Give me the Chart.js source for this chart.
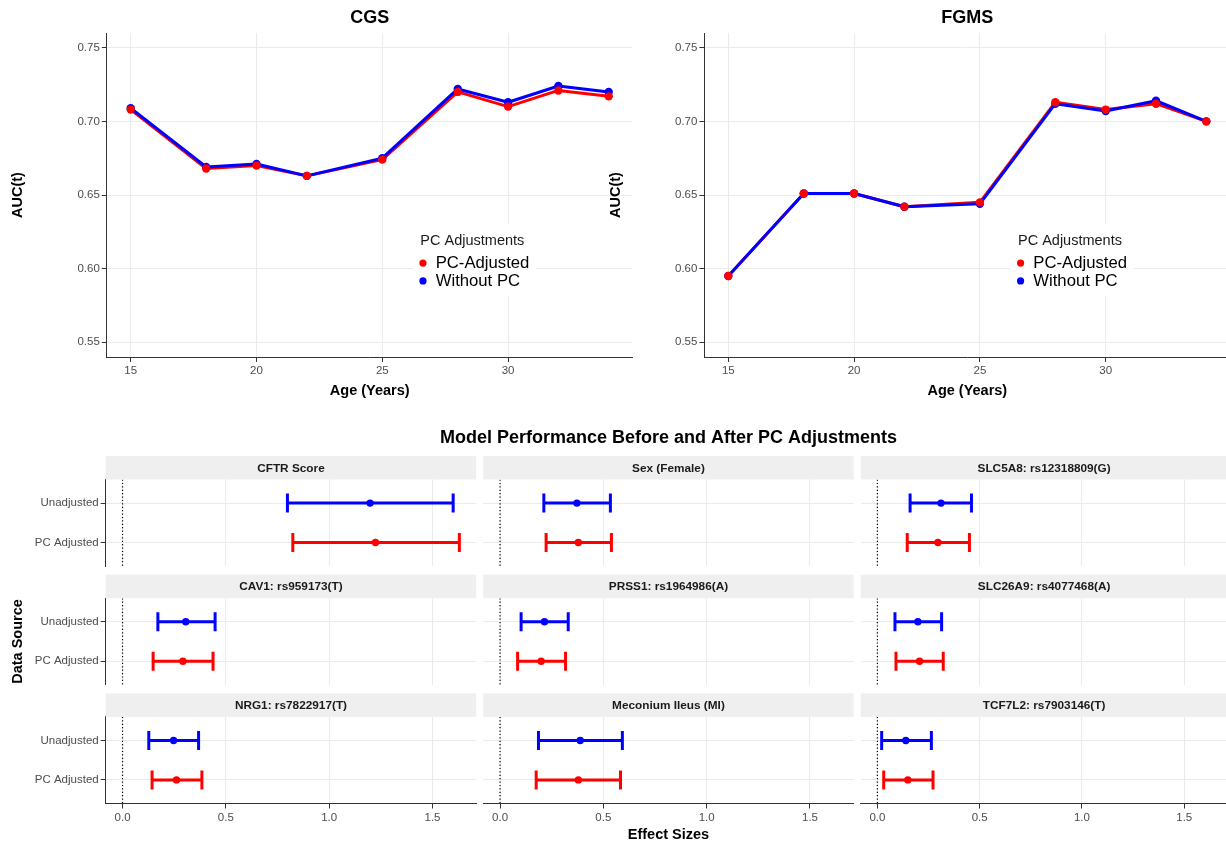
<!DOCTYPE html>
<html>
<head>
<meta charset="utf-8">
<script src="https://cdn.jsdelivr.net/npm/chart.js@4.4.1/dist/chart.umd.min.js"></script>
<style>
  html, body { margin: 0; padding: 0; background: #ffffff; }
  #fig { position: relative; width: 1226px; height: 846px; overflow: hidden; background: #ffffff; }
  #fig canvas { position: absolute; left: 0; top: 0; }
</style>
</head>
<body>
<div id="fig"></div>
<script>
// ---------- AUC(t) by age ----------
const ages = [15, 18, 20, 22, 25, 28, 30, 32, 34];
const ageTicks = [15, 20, 25, 30];
const aucTicks = [0.55, 0.60, 0.65, 0.70, 0.75];
const cgsAdjusted  = [0.708, 0.668, 0.670, 0.663, 0.674, 0.720, 0.710, 0.721, 0.717];
const cgsWithout   = [0.709, 0.669, 0.671, 0.663, 0.675, 0.722, 0.713, 0.724, 0.720];
const fgmsAdjusted = [0.595, 0.651, 0.651, 0.642, 0.645, 0.713, 0.708, 0.712, 0.700];
const fgmsWithout  = [0.595, 0.651, 0.651, 0.642, 0.644, 0.712, 0.707, 0.714, 0.700];
const seriesNames = ['PC-Adjusted', 'Without PC'];
const legendTitle = 'PC Adjustments';

// ---------- Effect sizes (facets) ----------
const facetTitle = 'Model Performance Before and After PC Adjustments';
const facetNames = [
  'CFTR Score', 'Sex (Female)', 'SLC5A8: rs12318809(G)',
  'CAV1: rs959173(T)', 'PRSS1: rs1964986(A)', 'SLC26A9: rs4077468(A)',
  'NRG1: rs7822917(T)', 'Meconium Ileus (MI)', 'TCF7L2: rs7903146(T)'
];
const sourceLabels = ['Unadjusted', 'PC Adjusted'];
const unadjEstimate = [1.198, 0.372, 0.311, 0.306, 0.215, 0.198, 0.247, 0.388, 0.139];
const unadjLower    = [0.798, 0.212, 0.160, 0.171, 0.102, 0.086, 0.127, 0.186, 0.021];
const unadjUpper    = [1.600, 0.534, 0.460, 0.448, 0.330, 0.314, 0.368, 0.592, 0.264];
const adjEstimate   = [1.224, 0.379, 0.296, 0.292, 0.199, 0.206, 0.261, 0.379, 0.149];
const adjLower      = [0.824, 0.223, 0.146, 0.148, 0.085, 0.091, 0.143, 0.175, 0.031];
const adjUpper      = [1.630, 0.539, 0.450, 0.438, 0.317, 0.322, 0.384, 0.583, 0.272];
const effectTicks = [0, 0.5, 1.0, 1.5];
const referenceEffect = 0;

// ---------- styling ----------
const FONT = '"Liberation Sans", Arial, Helvetica, sans-serif';
const W = 1240, H = 846;
const GRID = '#ebebeb', AXIS = '#333333', TICKTXT = '#4d4d4d', INK = '#1a1a1a';
const STRIP = '#efefef', STRIP_H = 23.5;
const RED = '#ff0000', BLUE = '#0000ff';

Chart.defaults.font.family = FONT;
Chart.defaults.animation = false;
Chart.defaults.events = [];
Chart.defaults.plugins.legend.display = false;
Chart.defaults.plugins.tooltip.enabled = false;

const fig = document.getElementById('fig');
function addCanvas() {
  const c = document.createElement('canvas');
  c.width = W; c.height = H;
  c.style.width = W + 'px'; c.style.height = H + 'px';
  fig.appendChild(c);
  return c;
}
function expand(lo, hi, mult) { const p = (hi - lo) * mult; return [lo - p, hi + p]; }
const fixedTicks = values => scale => { scale.ticks = values.map(v => ({ value: v })); };

function xAxis(o) {
  return {
    type: 'linear', position: 'bottom', min: o.min, max: o.max,
    afterBuildTicks: fixedTicks(o.ticks),
    afterFit: s => { s.height = o.height; },
    grid: { color: GRID, lineWidth: 1, drawTicks: o.labels, tickLength: 5, tickColor: AXIS, tickWidth: 1 },
    border: { display: o.axisLine, color: AXIS, width: 1 },
    ticks: { display: o.labels, padding: 2, color: TICKTXT, font: { size: 11.5 }, callback: o.fmt, maxRotation: 0, autoSkip: false },
    title: { display: !!o.title, text: o.title || '', color: '#000000', font: { size: 14.5, weight: 'bold' },
             padding: { top: 0, bottom: o.titlePad || 0 } }
  };
}
function yAxis(o) {
  return {
    type: 'linear', position: 'left', min: o.min, max: o.max, reverse: !!o.reverse,
    afterBuildTicks: fixedTicks(o.ticks),
    afterFit: s => { s.width = o.width; },
    grid: { color: GRID, lineWidth: 1, drawTicks: o.labels, tickLength: 5, tickColor: AXIS, tickWidth: 1 },
    border: { display: o.axisLine, color: AXIS, width: 1 },
    ticks: { display: o.labels, padding: 2, color: TICKTXT, font: { size: 11.5 }, callback: o.fmt, autoSkip: false },
    title: { display: !!o.title, text: o.title || '', color: '#000000', font: { size: 14.5, weight: 'bold' },
             padding: { top: o.titlePad || 0, bottom: 0 } }
  };
}

// Legend box placed inside the panel at relative (x, y) measured from bottom-left.
function insideLegend(title, relX, relY) {
  return {
    id: 'insideLegend',
    afterDatasetsDraw(chart) {
      const { ctx, chartArea: a } = chart;
      const items = chart.data.datasets.filter(d => d.legendEntry);
      ctx.save();
      const titleFont = `14.5px ${FONT}`, itemFont = `16.7px ${FONT}`;
      ctx.font = titleFont;
      const tw = ctx.measureText(title).width;
      ctx.font = itemFont;
      const iw = Math.max(...items.map(d => ctx.measureText(d.label).width));
      const keyW = 15.3;
      const contentW = Math.max(tw, keyW + iw);
      const padX = 7, boxH = 72;
      const cx = a.left + relX * (a.right - a.left);
      const cy = a.bottom - relY * (a.bottom - a.top);
      const x0 = cx - contentW / 2;
      ctx.fillStyle = '#ffffff';
      ctx.fillRect(x0 - padX, cy - boxH / 2, contentW + 2 * padX, boxH);
      ctx.textBaseline = 'middle';
      ctx.textAlign = 'left';
      ctx.fillStyle = INK;
      ctx.font = titleFont;
      ctx.fillText(title, x0, cy - 19.1);
      ctx.font = itemFont;
      items.forEach((d, k) => {
        const y = cy + 3.3 + k * 17.8;
        ctx.beginPath();
        ctx.arc(x0 + 2.6, y, 3.6, 0, Math.PI * 2);
        ctx.fillStyle = d.pointBackgroundColor;
        ctx.fill();
        ctx.fillStyle = '#000000';
        ctx.fillText(d.label, x0 + keyW, y + 0.5);
      });
      ctx.restore();
    }
  };
}

function aucChart(title, adjusted, without, padLeft, areaRight) {
  const [xMin, xMax] = expand(Math.min(...ages), Math.max(...ages), 0.05);
  const [yMin, yMax] = expand(aucTicks[0], aucTicks[aucTicks.length - 1], 0.05);
  const pts = vals => ages.map((a, k) => ({ x: a, y: vals[k] }));
  const pointSet = (label, vals, color) => ({
    label, legendEntry: true, data: pts(vals), showLine: false,
    pointRadius: 4.2, pointBackgroundColor: color, pointBorderWidth: 0, backgroundColor: color
  });
  const lineSet = (label, vals, color) => ({
    label, data: pts(vals), showLine: true, borderColor: color, borderWidth: 3,
    borderJoinStyle: 'round', borderCapStyle: 'round', pointRadius: 0, tension: 0
  });
  new Chart(addCanvas(), {
    type: 'scatter',
    data: {
      datasets: [
        pointSet(seriesNames[0], adjusted, RED),
        pointSet(seriesNames[1], without, BLUE),
        lineSet(seriesNames[1], without, BLUE),
        lineSet(seriesNames[0], adjusted, RED)
      ]
    },
    options: {
      responsive: false, devicePixelRatio: 1,
      layout: { padding: { left: padLeft, right: W - areaRight, top: 0, bottom: H - 400 } },
      plugins: {
        title: { display: true, text: title, fullSize: false, color: '#000000',
                 font: { size: 18, weight: 'bold' }, padding: { top: 7.2, bottom: 4.2 } }
      },
      scales: {
        x: xAxis({ min: xMin, max: xMax, ticks: ageTicks, height: 43, labels: true, axisLine: true,
                   fmt: v => String(v), title: 'Age (Years)', titlePad: 0.3 }),
        y: yAxis({ min: yMin, max: yMax, ticks: aucTicks, width: 106.8, labels: true, axisLine: true,
                   fmt: v => v.toFixed(2), title: 'AUC(t)', titlePad: 9.3 })
      }
    },
    plugins: [insideLegend(legendTitle, 0.7, 0.3)]
  });
}

aucChart('CGS', cgsAdjusted, cgsWithout, 0, 632.6);
aucChart('FGMS', fgmsAdjusted, fgmsWithout, 597.6, 1230.2);

// ---------- facet grid of effect sizes ----------
const colLeft = [105.7, 483.2, 860.7];
const panelW = 370.5;
const rowTop = [479.5, 598.2, 716.9];
const panelH = 86.6;
const [effMin, effMax] = expand(Math.min(referenceEffect, ...unadjLower, ...adjLower),
                                Math.max(referenceEffect, ...unadjUpper, ...adjUpper), 0.05);

function stripPlugin(label) {
  return {
    id: 'facetStrip',
    afterDraw(chart) {
      const { ctx, chartArea: a } = chart;
      ctx.save();
      ctx.fillStyle = STRIP;
      ctx.fillRect(a.left, a.top - STRIP_H, a.right - a.left, STRIP_H);
      ctx.fillStyle = INK;
      ctx.font = `bold 11.8px ${FONT}`;
      ctx.textAlign = 'center';
      ctx.textBaseline = 'middle';
      ctx.fillText(label, (a.left + a.right) / 2, a.top - STRIP_H / 2 + 0.5);
      ctx.restore();
    }
  };
}

// Overall heading of the facet grid, centred on the middle column, free of width limits.
function gridHeading(text, centerY) {
  return {
    id: 'gridHeading',
    afterDraw(chart) {
      const { ctx, chartArea: a } = chart;
      ctx.save();
      ctx.fillStyle = '#000000';
      ctx.font = `bold 18px ${FONT}`;
      ctx.textAlign = 'center';
      ctx.textBaseline = 'middle';
      ctx.fillText(text, (a.left + a.right) / 2, centerY);
      ctx.restore();
    }
  };
}

function errorBar(lo, hi, row, color) {
  return {
    data: [{ x: lo, y: row }, { x: hi, y: row }], showLine: true,
    borderColor: color, borderWidth: 3, borderCapStyle: 'butt',
    pointStyle: 'line', pointRotation: 90, pointRadius: 9.5,
    pointBorderColor: color, pointBorderWidth: 3, pointBackgroundColor: color
  };
}
function estimate(v, row, color) {
  return { data: [{ x: v, y: row }], showLine: false, pointRadius: 3.7,
           pointBackgroundColor: color, pointBorderWidth: 0 };
}

facetNames.forEach((name, i) => {
  const col = i % 3, row = Math.floor(i / 3);
  const left = colLeft[col], right = left + panelW;
  const top = rowTop[row], bottom = top + panelH;
  const firstCol = col === 0, lastRow = row === 2;
  const yW = firstCol ? left : 0;
  const extra = [stripPlugin(name)];
  if (i === 1) extra.push(gridHeading(facetTitle, 438));
  new Chart(addCanvas(), {
    type: 'scatter',
    data: {
      datasets: [
        estimate(unadjEstimate[i], 0, BLUE),
        estimate(adjEstimate[i], 1, RED),
        errorBar(unadjLower[i], unadjUpper[i], 0, BLUE),
        errorBar(adjLower[i], adjUpper[i], 1, RED),
        { data: [{ x: referenceEffect, y: -0.6 }, { x: referenceEffect, y: 1.6 }], showLine: true,
          borderColor: '#000000', borderWidth: 1.2, borderDash: [1.2, 2.2], pointRadius: 0 }
      ]
    },
    options: {
      responsive: false, devicePixelRatio: 1,
      layout: { padding: {
        left: firstCol ? 0 : left, right: W - right,
        top: top, bottom: lastRow ? 0 : H - bottom
      } },
      scales: {
        x: xAxis({ min: effMin, max: effMax, ticks: effectTicks, height: lastRow ? H - bottom : 0,
                   labels: lastRow, axisLine: lastRow, fmt: v => v.toFixed(1),
                   title: (lastRow && col === 1) ? 'Effect Sizes' : '', titlePad: 2.3 }),
        y: yAxis({ min: -0.6, max: 1.6, reverse: true, ticks: [0, 1], width: yW,
                   labels: firstCol, axisLine: firstCol, fmt: v => sourceLabels[v],
                   title: (firstCol && row === 1) ? 'Data Source' : '', titlePad: 9.3 })
      }
    },
    plugins: extra
  });
});
</script>
</body>
</html>
